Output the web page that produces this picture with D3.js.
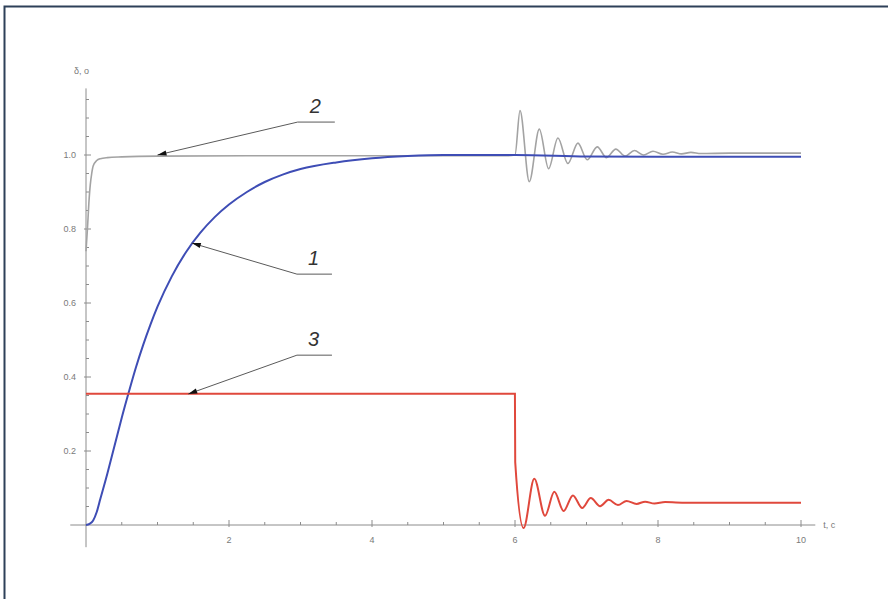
<!DOCTYPE html>
<html>
<head>
<meta charset="utf-8">
<script src="https://cdn.jsdelivr.net/npm/d3@7"></script>
<style>
  html, body { margin: 0; padding: 0; background: #fff; }
  svg { display: block; }
</style>
</head>
<body>
<svg id="chart" width="888" height="599"></svg>
<script>
// ---- data ----
const xTicks = [2, 4, 6, 8, 10];
const yTicks = [0.2, 0.4, 0.6, 0.8, 1.0];
const xLabel = "t, c";
const yLabel = "δ, о";

// curve 1 (blue)
const t1 = [0, 0.05, 0.1, 0.15, 0.2, 0.3, 0.4, 0.5, 0.6, 0.7, 0.8, 0.9, 1.0, 1.2, 1.4, 1.6, 1.8, 2.0, 2.25, 2.5, 2.75, 3.0, 3.5, 4.0, 4.5, 5, 6, 7, 8, 9, 10];
const v1 = [0, 0.003, 0.012, 0.035, 0.07, 0.14, 0.215, 0.29, 0.36, 0.427, 0.487, 0.541, 0.59, 0.672, 0.738, 0.79, 0.832, 0.866, 0.9, 0.927, 0.947, 0.962, 0.98, 0.991, 0.997, 1.0, 1.0, 0.996, 0.995, 0.995, 0.995];

// curve 2 (gray)
const t2 = [0, 0.02, 0.04, 0.06, 0.08, 0.1, 0.15, 0.2, 0.3, 0.5, 1, 3, 5.9, 6.0, 6.07, 6.2, 6.34, 6.47, 6.6, 6.74, 6.88, 7.01, 7.15, 7.28, 7.41, 7.54, 7.67, 7.8, 7.93, 8.07, 8.2, 8.33, 8.46, 8.6, 9, 10];
const v2 = [0.74, 0.8, 0.87, 0.92, 0.95, 0.97, 0.985, 0.99, 0.993, 0.995, 0.997, 0.998, 0.998, 1.0, 1.12, 0.928, 1.07, 0.963, 1.046, 0.977, 1.032, 0.987, 1.022, 0.993, 1.016, 0.997, 1.012, 1.0, 1.01, 1.002, 1.008, 1.003, 1.007, 1.004, 1.005, 1.005];

// curve 3 (red)
const t3 = [0, 3, 5.999, 6.003, 6.12, 6.27, 6.42, 6.55, 6.68, 6.81, 6.94, 7.06, 7.19, 7.31, 7.44, 7.56, 7.7, 7.82, 7.95, 8.1, 8.4, 9, 10];
const v3 = [0.355, 0.355, 0.355, 0.17, -0.008, 0.125, 0.025, 0.09, 0.038, 0.08, 0.046, 0.073, 0.051, 0.068, 0.054, 0.065, 0.057, 0.063, 0.058, 0.062, 0.06, 0.06, 0.06];

// annotations: label, arrow tip, elbow, end (data coords)
const annLabels = ["1", "2", "3"];
const annTip   = [[1.48, 0.762], [1.0, 1.0], [1.43, 0.354]];
const annElbow = [[2.95, 0.678], [2.96, 1.089], [2.95, 0.459]];
const annEnd   = [[3.44, 0.678], [3.48, 1.089], [3.44, 0.459]];

// ---- drawing ----
const svg = d3.select("#chart");

// outer frame
svg.append("rect")
  .attr("x", 4.5).attr("y", 6.5).attr("width", 900).attr("height", 620)
  .attr("fill", "none").attr("stroke", "#2e4059").attr("stroke-width", 2);

const x = d3.scaleLinear().domain([0, 10]).range([86, 801]);
const y = d3.scaleLinear().domain([0, 1]).range([525, 155]);

const axisColor = "#8c8c8c";
const labelColor = "#7a7a7a";

// x axis line
svg.append("line")
  .attr("x1", x(-0.22)).attr("x2", x(10.2))
  .attr("y1", y(0)).attr("y2", y(0))
  .attr("stroke", axisColor).attr("stroke-width", 1);
// y axis line
svg.append("line")
  .attr("x1", x(0)).attr("x2", x(0))
  .attr("y1", y(-0.06)).attr("y2", y(1.18))
  .attr("stroke", axisColor).attr("stroke-width", 1);

// x ticks
const xMinor = d3.range(0.5, 10.01, 0.5).filter(t => Math.abs(t % 2) > 1e-6);
svg.selectAll(".xminor").data(xMinor).enter().append("line")
  .attr("x1", d => x(d)).attr("x2", d => x(d))
  .attr("y1", y(0)).attr("y2", y(0) - 3)
  .attr("stroke", axisColor);
svg.selectAll(".xmajor").data(xTicks).enter().append("line")
  .attr("x1", d => x(d)).attr("x2", d => x(d))
  .attr("y1", y(0) + 2).attr("y2", y(0) - 5)
  .attr("stroke", axisColor);
svg.selectAll(".xlab").data(xTicks).enter().append("text")
  .attr("x", d => x(d)).attr("y", y(0) + 18)
  .attr("text-anchor", "middle")
  .attr("font-family", "Liberation Sans, Arial, sans-serif")
  .attr("font-size", 9).attr("fill", labelColor)
  .text(d => d);

// y ticks
const yMinor = d3.range(0.05, 1.16, 0.05).filter(v => Math.abs((v * 100) % 20) > 1e-3 && Math.abs((v * 100) % 20 - 20) > 1e-3);
svg.selectAll(".yminor").data(yMinor).enter().append("line")
  .attr("x1", x(0)).attr("x2", x(0) + 3)
  .attr("y1", d => y(d)).attr("y2", d => y(d))
  .attr("stroke", axisColor);
svg.selectAll(".ymajor").data(yTicks).enter().append("line")
  .attr("x1", x(0) - 2).attr("x2", x(0) + 5)
  .attr("y1", d => y(d)).attr("y2", d => y(d))
  .attr("stroke", axisColor);
svg.selectAll(".ylab").data(yTicks).enter().append("text")
  .attr("x", x(0) - 10).attr("y", d => y(d) + 3)
  .attr("text-anchor", "end")
  .attr("font-family", "Liberation Sans, Arial, sans-serif")
  .attr("font-size", 9).attr("fill", labelColor)
  .text(d => d.toFixed(1));

// axis labels
svg.append("text")
  .attr("x", x(10.2) + 8).attr("y", y(0) + 3)
  .attr("font-family", "Liberation Sans, Arial, sans-serif")
  .attr("font-size", 9).attr("fill", labelColor)
  .text(xLabel);
svg.append("text")
  .attr("x", x(0) - 12).attr("y", y(1.18) - 14)
  .attr("font-family", "Liberation Sans, Arial, sans-serif")
  .attr("font-size", 9).attr("fill", labelColor)
  .text(yLabel);

// curves
const line = d3.line().x(d => x(d[0])).y(d => y(d[1])).curve(d3.curveMonotoneX);
function pairs(ts, vs) { return ts.map((t, i) => [t, vs[i]]); }

svg.append("path").attr("d", line(pairs(t2, v2)))
  .attr("fill", "none").attr("stroke", "#a3a3a3").attr("stroke-width", 1.6);
svg.append("path").attr("d", line(pairs(t1, v1)))
  .attr("fill", "none").attr("stroke", "#3e4db5").attr("stroke-width", 2);
svg.append("path").attr("d", line(pairs(t3, v3)))
  .attr("fill", "none").attr("stroke", "#e0483c").attr("stroke-width", 2);

// annotations
annLabels.forEach((lab, i) => {
  const tip = [x(annTip[i][0]), y(annTip[i][1])];
  const elb = [x(annElbow[i][0]), y(annElbow[i][1])];
  const end = [x(annEnd[i][0]), y(annEnd[i][1])];
  svg.append("polyline")
    .attr("points", [end, elb, tip].map(p => p.join(",")).join(" "))
    .attr("fill", "none").attr("stroke", "#5a5a5a").attr("stroke-width", 1);
  // arrowhead
  const ang = Math.atan2(tip[1] - elb[1], tip[0] - elb[0]);
  const L = 9, W = 2.6;
  const bx = tip[0] - L * Math.cos(ang), by = tip[1] - L * Math.sin(ang);
  const px = -Math.sin(ang) * W, py = Math.cos(ang) * W;
  svg.append("path")
    .attr("d", `M${tip[0]},${tip[1]} L${bx + px},${by + py} L${bx - px},${by - py} Z`)
    .attr("fill", "#111");
  svg.append("text")
    .attr("x", (elb[0] + end[0]) / 2 - 1).attr("y", elb[1] - 9)
    .attr("text-anchor", "middle")
    .attr("font-family", "Liberation Sans, Arial, sans-serif")
    .attr("font-style", "italic")
    .attr("font-size", 20).attr("fill", "#333")
    .text(lab);
});
</script>
</body>
</html>
